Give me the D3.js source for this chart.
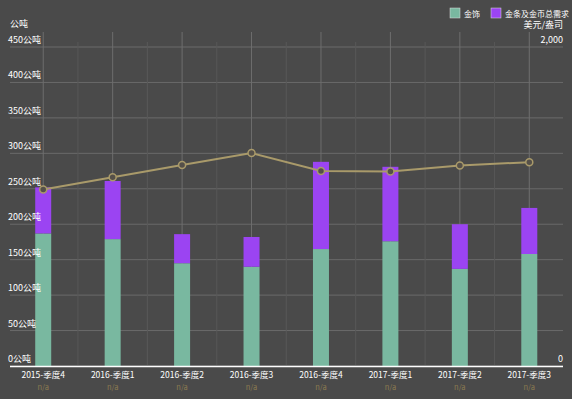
<!DOCTYPE html>
<html>
<head>
<meta charset="utf-8">
<script src="https://cdn.jsdelivr.net/npm/d3@7"></script>
<style>
  body { margin: 0; background: #4a4a4a; }
  text { font-family: "Noto Sans CJK SC", "DejaVu Sans", sans-serif; }
</style>
</head>
<body>
<script>
var categories = ["2015-季度4", "2016-季度1", "2016-季度2", "2016-季度3", "2016-季度4", "2017-季度1", "2017-季度2", "2017-季度3"];
var jewellery = [187, 179, 145, 140, 165, 176, 137, 158];
var barsCoins = [65, 82, 41, 42, 123, 105, 63, 65];   // stacked on jewellery
var goldPrice = [1106, 1183, 1260, 1335, 1222, 1219, 1257, 1278];
var leftTicks = [0, 50, 100, 150, 200, 250, 300, 350, 400, 450];

var width = 572, height = 399;
var svg = d3.select("body").append("svg").attr("width", width).attr("height", height)
            .style("background", "#4a4a4a");

// scales
var x = d3.scaleBand().domain(categories).range([8.5, 564]);
var y = d3.scaleLinear().domain([0, 450]).range([366, 47]);
var y2 = d3.scaleLinear().domain([0, 2000]).range([366, 47]);

// grid
svg.selectAll(".hgrid").data(leftTicks).enter().append("line")
   .attr("x1", 10).attr("x2", 563)
   .attr("y1", function (d) { return y(d); }).attr("y2", function (d) { return y(d); })
   .attr("stroke", "#6a6a6a").attr("stroke-width", 1);
svg.selectAll(".vminor").data(categories.slice(1)).enter().append("line")
   .attr("x1", function (d) { return x(d); }).attr("x2", function (d) { return x(d); })
   .attr("y1", 42).attr("y2", 366)
   .attr("stroke", "#585858").attr("stroke-width", 1);
svg.selectAll(".vmajor").data(categories).enter().append("line")
   .attr("x1", function (d) { return x(d) + x.bandwidth() / 2; })
   .attr("x2", function (d) { return x(d) + x.bandwidth() / 2; })
   .attr("y1", 32).attr("y2", 366)
   .attr("stroke", "#6e6e6e").attr("stroke-width", 1);

// bars
var bw = 16;
svg.selectAll(".teal").data(categories).enter().append("rect")
   .attr("x", function (d) { return x(d) + x.bandwidth() / 2 - bw / 2; })
   .attr("width", bw)
   .attr("y", function (d, i) { return y(jewellery[i]); })
   .attr("height", function (d, i) { return y(0) - y(jewellery[i]); })
   .attr("fill", "#79b8a0");
svg.selectAll(".purple").data(categories).enter().append("rect")
   .attr("x", function (d) { return x(d) + x.bandwidth() / 2 - bw / 2; })
   .attr("width", bw)
   .attr("y", function (d, i) { return y(jewellery[i] + barsCoins[i]); })
   .attr("height", function (d, i) { return y(jewellery[i]) - y(jewellery[i] + barsCoins[i]); })
   .attr("fill", "#9b44f2");

// baseline
svg.append("line").attr("x1", 10).attr("x2", 563).attr("y1", 366.5).attr("y2", 366.5)
   .attr("stroke", "#ffffff").attr("stroke-width", 1.5);

// y labels (left)
svg.selectAll(".ylab").data(leftTicks).enter().append("text")
   .attr("x", 8).attr("y", function (d) { return y(d) - 4; })
   .attr("fill", "#ffffff").attr("font-size", 9)
   .text(function (d) { return d + "公吨"; });
svg.append("text").attr("x", 10).attr("y", 27).attr("fill", "#ffffff").attr("font-size", 9).text("公吨");

// right axis labels
svg.append("text").attr("x", 563).attr("y", y2(2000) - 4).attr("text-anchor", "end")
   .attr("fill", "#ffffff").attr("font-size", 9).text(d3.format(",")(2000));
svg.append("text").attr("x", 563).attr("y", y2(0) - 4).attr("text-anchor", "end")
   .attr("fill", "#ffffff").attr("font-size", 9).text("0");
svg.append("text").attr("x", 563).attr("y", 28).attr("text-anchor", "end")
   .attr("fill", "#ffffff").attr("font-size", 9).text("美元/盎司");

// line
var line = d3.line()
   .x(function (d, i) { return x(categories[i]) + x.bandwidth() / 2; })
   .y(function (d) { return y2(d); });
svg.append("path").datum(goldPrice).attr("d", line)
   .attr("fill", "none").attr("stroke", "#a99a6a").attr("stroke-width", 2);
svg.selectAll(".pt").data(goldPrice).enter().append("circle")
   .attr("cx", function (d, i) { return x(categories[i]) + x.bandwidth() / 2; })
   .attr("cy", function (d) { return y2(d); })
   .attr("r", 3.5).attr("fill", "#555049").attr("stroke", "#a99a6a").attr("stroke-width", 1.5);

// x labels
svg.selectAll(".xlab").data(categories).enter().append("text")
   .attr("x", function (d) { return x(d) + x.bandwidth() / 2; })
   .attr("y", 378).attr("text-anchor", "middle")
   .attr("fill", "#ffffff").attr("font-size", 8.5)
   .text(function (d) { return d; });
svg.selectAll(".xna").data(categories).enter().append("text")
   .attr("x", function (d) { return x(d) + x.bandwidth() / 2; })
   .attr("y", 390).attr("text-anchor", "middle")
   .attr("fill", "#8a7a50").attr("font-size", 7.5)
   .text("n/a");

// legend
var legend = [{name: "金饰", color: "#79b8a0", x: 450}, {name: "金条及金币总需求", color: "#9b44f2", x: 491}];
var lg = svg.selectAll(".lg").data(legend).enter().append("g")
   .attr("transform", function (d) { return "translate(" + d.x + ",8)"; });
lg.append("rect").attr("width", 10).attr("height", 10).attr("fill", function (d) { return d.color; })
   .attr("stroke", "#dddddd").attr("stroke-width", 0.5);
lg.append("text").attr("x", 14).attr("y", 8.5).attr("fill", "#ffffff").attr("font-size", 8)
   .text(function (d) { return d.name; });
</script>
</body>
</html>
